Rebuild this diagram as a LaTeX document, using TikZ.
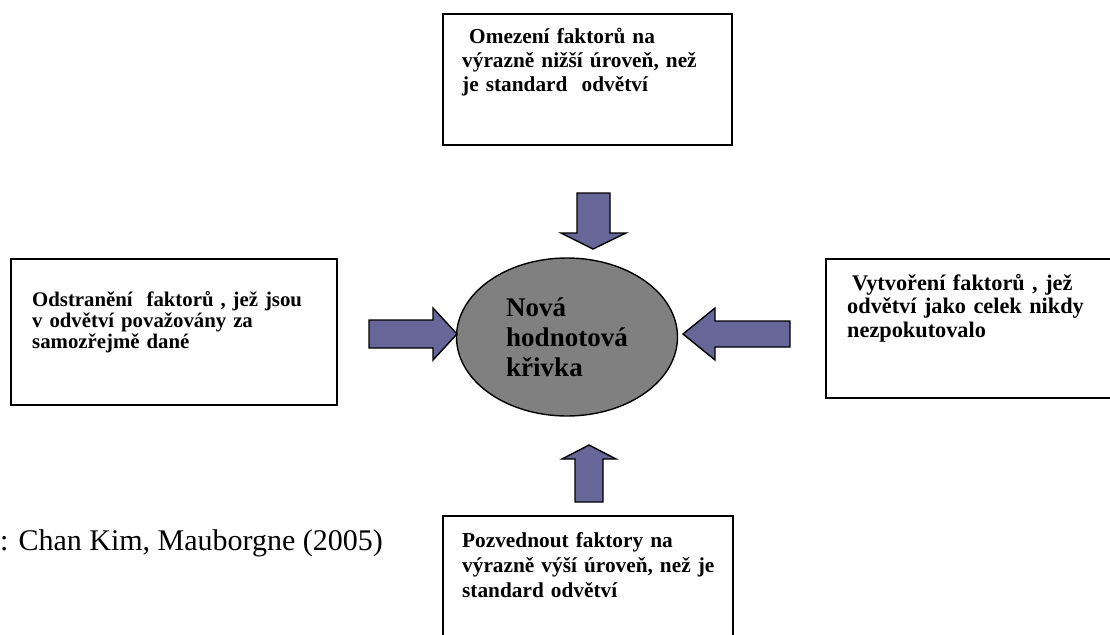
\documentclass[tikz,border=0pt]{standalone}
\usepackage{fontspec}
\setmainfont{Liberation Serif}
\usetikzlibrary{shapes.geometric}
\definecolor{arrowfill}{HTML}{666699}
\definecolor{curvefill}{HTML}{808080}
\tikzset{
  framebox/.style={draw=black, line width=1.8pt, fill=white, inner sep=0pt, anchor=north west},
  boxtext/.style={anchor=base west, inner sep=0pt, text width=300pt, align=left},
  blockarrow/.style={draw=black, line width=1.4pt, fill=arrowfill, line join=miter},
  curve/.style={ellipse, draw=black, line width=1.4pt, fill=curvefill, inner sep=0pt,
    minimum width=221pt, minimum height=158pt, align=left,
    font=\fontsize{27}{30}\selectfont\bfseries},
}
\begin{document}
\begin{tikzpicture}[x=1pt, y=-1pt]
\useasboundingbox (0,0) rectangle (1110,634);

% four factor boxes
\node[framebox, minimum width=289pt, minimum height=131pt] (reduce) at (442,13) {};
\node[boxtext, font=\fontsize{21.3}{24}\selectfont\bfseries] (reducetext) at (462,43.5)
  {\hspace*{7pt}Omezení faktorů na\\výrazně nižší úroveň, než\\je standard\ \ odvětví};

\node[framebox, minimum width=326pt, minimum height=146pt] (eliminate) at (10,258) {};
\node[boxtext, font=\fontsize{20.8}{21}\selectfont\bfseries] (eliminatetext) at (32,306.5)
  {Odstranění\ \ faktorů , jež jsou\\v odvětví považovány za\\samozřejmě dané};

\node[framebox, minimum width=295pt, minimum height=139pt] (create) at (825,258) {};
\node[boxtext, font=\fontsize{22.3}{23.6}\selectfont\bfseries] (createtext) at (847,290)
  {\hspace*{5pt}Vytvoření faktorů , jež\\odvětví jako celek nikdy\\nezpokutovalo};

\node[framebox, minimum width=290pt, minimum height=130pt] (raise) at (442,515) {};
\node[boxtext, font=\fontsize{21.3}{25}\selectfont\bfseries] (raisetext) at (462,547)
  {Pozvednout faktory na\\výrazně výší úroveň, než je\\standard odvětví};

% central value curve
\node[curve] (center) at (567,337) {Nová\\hodnotová\\křivka};

% block arrows pointing to the centre
\draw[blockarrow] (577,193) -- (610,193) -- (610,233) -- (626,233) -- (593,249)
  -- (561,233) -- (577,233) -- cycle;
\draw[blockarrow] (575,502) -- (603,502) -- (603,459) -- (616,459) -- (589,445)
  -- (562,459) -- (575,459) -- cycle;
\draw[blockarrow] (369,320) -- (433,320) -- (433,308) -- (457,334) -- (433,360)
  -- (433,348) -- (369,348) -- cycle;
\draw[blockarrow] (790,321) -- (715,321) -- (715,308) -- (683,334) -- (715,360)
  -- (715,347) -- (790,347) -- cycle;

% source line
\node[anchor=base west, inner sep=0pt, font=\fontsize{30}{32}\selectfont] (source)
  at (0,550) {: Chan Kim, Mauborgne (2005)};
\end{tikzpicture}
\end{document}
